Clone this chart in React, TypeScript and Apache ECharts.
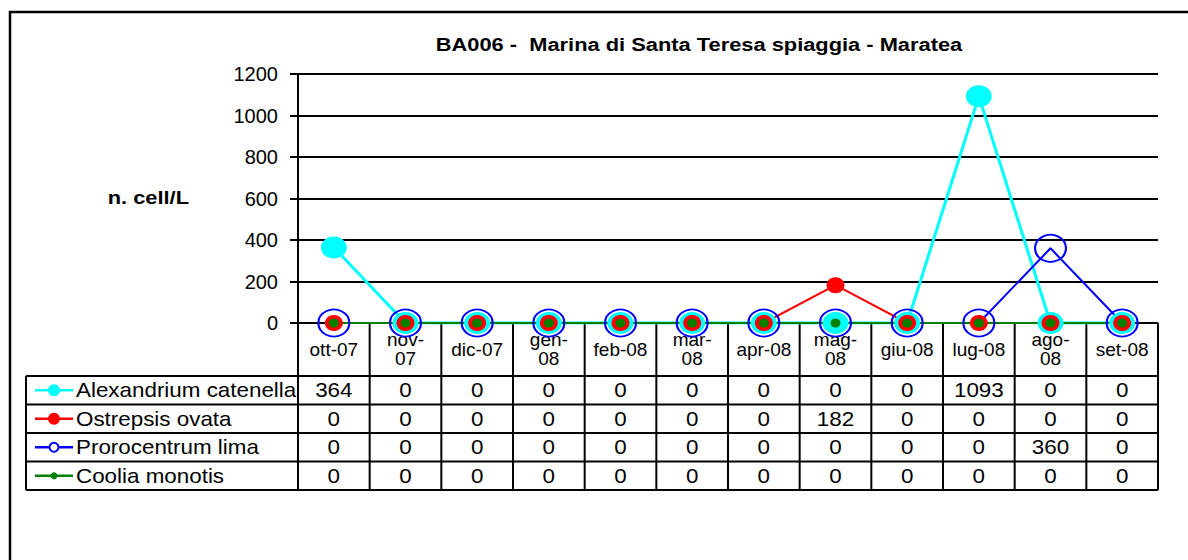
import React, { useEffect, useRef } from "react";
import * as echarts from "echarts";

const titleText = "BA006 -  Marina di Santa Teresa spiaggia - Maratea";
const yAxisTitle = "n. cell/L";
const categories = ["ott-07", "nov-07", "dic-07", "gen-08", "feb-08", "mar-08", "apr-08", "mag-08", "giu-08", "lug-08", "ago-08", "set-08"];
const wrappedCategories = ["nov-07", "gen-08", "mar-08", "mag-08", "ago-08"];
const seriesNames = ["Alexandrium catenella", "Ostrepsis ovata", "Prorocentrum lima", "Coolia monotis"];
const alexandrium = [364, 0, 0, 0, 0, 0, 0, 0, 0, 1093, 0, 0];
const ostreopsis = [0, 0, 0, 0, 0, 0, 0, 182, 0, 0, 0, 0];
const prorocentrum = [0, 0, 0, 0, 0, 0, 0, 0, 0, 0, 360, 0];
const coolia = [0, 0, 0, 0, 0, 0, 0, 0, 0, 0, 0, 0];
const yMin = 0;
const yMax = 1200;
const yInterval = 200;

const FONT = '"Liberation Sans", Arial, sans-serif';
const seriesData = [alexandrium, ostreopsis, prorocentrum, coolia];
const colors = ["#00FFFF", "#FF0000", "#0000FF", "#008000"];

export default function App() {
  const ref = useRef<HTMLDivElement>(null);
  useEffect(() => {
    if (!ref.current) return;
    const chart = echarts.init(ref.current, null, { renderer: "svg" });
    const option: any = {
      animation: false,
      backgroundColor: "#ffffff",
      textStyle: { fontFamily: FONT },
      grid: { left: 298, top: 74, width: 860, height: 249, containLabel: false },
      xAxis: {
        type: "category",
        data: categories,
        boundaryGap: true,
        axisLine: { show: false },
        axisTick: { show: false },
        axisLabel: {
          interval: 0,
          color: "#000",
          fontSize: 19,
          fontFamily: FONT,
          lineHeight: 19,
          verticalAlign: "middle",
          margin: 26,
          formatter: (v: string) => (wrappedCategories.includes(v) ? v.replace("-", "-\n") : v),
        },
        splitLine: { show: false },
      },
      yAxis: {
        type: "value",
        min: yMin,
        max: yMax,
        interval: yInterval,
        axisLine: { show: true, lineStyle: { color: "#000", width: 2 } },
        axisTick: { show: true, inside: false, length: 8, lineStyle: { color: "#000", width: 2 } },
        axisLabel: { color: "#000", fontSize: 20, fontFamily: FONT, margin: 20, formatter: (v: number) => String(v) },
        splitLine: { show: true, lineStyle: { color: "#000", width: 2 } },
      },
      series: [
        {
          name: seriesNames[0], type: "line", data: alexandrium, showAllSymbol: true,
          symbol: "circle", symbolSize: [26, 22],
          itemStyle: { color: colors[0] }, lineStyle: { color: colors[0], width: 3 },
        },
        {
          name: seriesNames[1], type: "line", data: ostreopsis, showAllSymbol: true,
          symbol: "circle", symbolSize: [18, 16],
          itemStyle: { color: colors[1] }, lineStyle: { color: colors[1], width: 2 },
        },
        {
          name: seriesNames[2], type: "line", data: prorocentrum, showAllSymbol: true,
          symbol: "circle", symbolSize: [31, 27],
          itemStyle: { color: "rgba(255,255,255,0)", borderColor: colors[2], borderWidth: 2 },
          lineStyle: { color: colors[2], width: 2 },
        },
        {
          name: seriesNames[3], type: "line", data: coolia, showAllSymbol: true,
          symbol: "circle", symbolSize: [10, 9],
          itemStyle: { color: colors[3] }, lineStyle: { color: colors[3], width: 2 },
        },
      ],
    };
    chart.setOption(option);

    const xs = categories.map((_, i) => chart.convertToPixel({ xAxisIndex: 0 }, i) as number);
    const band = xs.length > 1 ? xs[1] - xs[0] : 70;
    const left = xs[0] - band / 2;
    const right = xs[xs.length - 1] + band / 2;
    const y0 = chart.convertToPixel({ yAxisIndex: 0 }, 0) as number;
    const headerBottom = y0 + 53;
    const rowH = 28.5;
    const rows = [0, 1, 2, 3, 4].map((k) => headerBottom + k * rowH);
    const legendLeft = 26;
    const lineStyle = { stroke: "#000", lineWidth: 2 };
    const els: any[] = [];

    els.push({ type: "rect", silent: true, shape: { x: 10, y: 12, width: 1400, height: 800 }, style: { fill: "none", stroke: "#000", lineWidth: 2.5 } });
    for (let k = 0; k <= categories.length; k++) {
      const x = left + k * band;
      els.push({ type: "line", silent: true, shape: { x1: x, y1: y0, x2: x, y2: rows[4] }, style: lineStyle });
    }
    els.push({ type: "line", silent: true, shape: { x1: legendLeft, y1: rows[0], x2: legendLeft, y2: rows[4] }, style: lineStyle });
    rows.forEach((y) => {
      els.push({ type: "line", silent: true, shape: { x1: legendLeft, y1: y, x2: right, y2: y }, style: lineStyle });
    });
    seriesData.forEach((arr, r) => {
      const cy = rows[r] + rowH / 2;
      arr.forEach((v, i) => {
        els.push({
          type: "text", silent: true, x: xs[i], y: cy, scaleX: 1.12,
          style: { text: String(v), font: `20px ${FONT}`, fill: "#000", textAlign: "center", verticalAlign: "middle" },
        });
      });
      els.push({ type: "line", silent: true, shape: { x1: 35, y1: cy, x2: 73, y2: cy }, style: { stroke: colors[r], lineWidth: 2.5 } });
      if (r === 0) els.push({ type: "circle", silent: true, shape: { cx: 54, cy, r: 6 }, style: { fill: colors[0] } });
      if (r === 1) els.push({ type: "circle", silent: true, shape: { cx: 54, cy, r: 6 }, style: { fill: colors[1] } });
      if (r === 2) els.push({ type: "circle", silent: true, shape: { cx: 54, cy, r: 4.5 }, style: { fill: "#fff", stroke: colors[2], lineWidth: 2 } });
      if (r === 3) els.push({ type: "circle", silent: true, shape: { cx: 54, cy, r: 3.5 }, style: { fill: colors[3] } });
      els.push({
        type: "text", silent: true, x: 76, y: cy, scaleX: 1.12,
        style: { text: seriesNames[r], font: `20px ${FONT}`, fill: "#000", textAlign: "left", verticalAlign: "middle" },
      });
    });
    els.push({
      type: "text", silent: true, x: 699, y: 44, scaleX: 1.15,
      style: { text: titleText, font: `bold 19px ${FONT}`, fill: "#000", textAlign: "center", verticalAlign: "middle" },
    });
    els.push({
      type: "text", silent: true, x: 189, y: 197, scaleX: 1.15,
      style: { text: yAxisTitle, font: `bold 19px ${FONT}`, fill: "#000", textAlign: "right", verticalAlign: "middle" },
    });

    chart.setOption({ graphic: { elements: els } });
    return () => chart.dispose();
  }, []);

  return (
    <div
      ref={ref}
      style={{ position: "fixed", left: 0, top: 0, width: 1188, height: 560, background: "#fff" }}
    />
  );
}
